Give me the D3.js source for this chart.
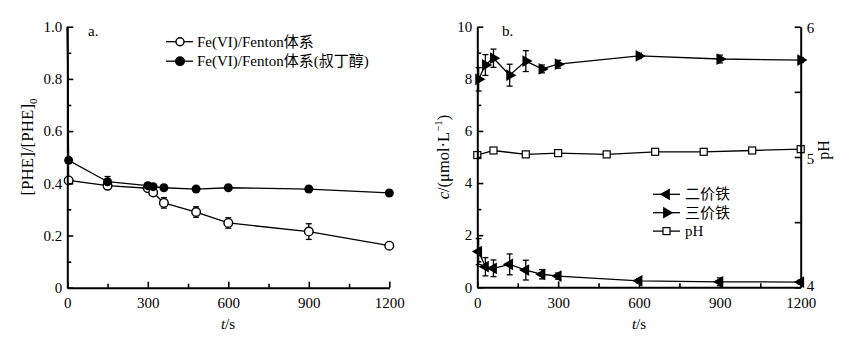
<!DOCTYPE html>
<html>
<head>
<meta charset="utf-8">
<script src="https://cdn.jsdelivr.net/npm/d3@7"></script>
<style>
  body { margin: 0; background: #fff; }
  svg text { font-family: "Liberation Serif", "Noto Sans CJK SC", serif; fill: #000; }
</style>
</head>
<body>
<svg id="chart" width="851" height="342"></svg>
<script>
// panel a: relative PHE concentration
const timeA = [0, 5, 150, 300, 320, 360, 480, 600, 900, 1200];
const pheOpen = [1.0, 0.411, 0.391, 0.381, 0.365, 0.325, 0.290, 0.248, 0.215, 0.161];
const pheOpenErr = [0, 0.01, 0.015, 0.01, 0.01, 0.02, 0.02, 0.02, 0.03, 0.005];
const pheFilled = [1.0, 0.488, 0.406, 0.391, 0.387, 0.383, 0.378, 0.383, 0.378, 0.363];
const pheFilledErr = [0, 0.01, 0.02, 0.01, 0.005, 0.005, 0.005, 0.005, 0.005, 0.005];
const legendA = ["Fe(VI)/Fenton体系", "Fe(VI)/Fenton体系(叔丁醇)"];

// panel b: iron species and pH
const timeFe = [5, 30, 60, 120, 180, 240, 300, 600, 900, 1200];
const fe2 = [1.37, 0.79, 0.73, 0.88, 0.66, 0.50, 0.43, 0.25, 0.21, 0.20];
const fe2Err = [0.5, 0.35, 0.32, 0.4, 0.38, 0.18, 0.12, 0.08, 0.15, 0.08];
const fe3 = [7.98, 8.53, 8.79, 8.14, 8.68, 8.38, 8.56, 8.88, 8.76, 8.72];
const fe3Err = [0.45, 0.4, 0.35, 0.42, 0.4, 0.15, 0.15, 0.1, 0.15, 0.1];
const timePH = [0, 60, 180, 300, 480, 660, 840, 1020, 1200];
const pHvals = [5.015, 5.05, 5.02, 5.03, 5.02, 5.04, 5.04, 5.05, 5.06];
const legendB = ["二价铁", "三价铁", "pH"];

const xTicks = [0, 300, 600, 900, 1200];

const svg = d3.select("#chart");

//bottom x axis with inward major and minor ticks
function drawXAxis(g, x, y0) {
  g.append("g")
    .attr("transform", `translate(0,${y0})`)
    .call(d3.axisBottom(x).tickValues(d3.range(150, 1200, 300)).tickSize(-4).tickFormat(""))
    .call(a => a.select(".domain").remove())
    .selectAll("line").attr("stroke-width", 1.6);
  const ax = g.append("g")
    .attr("transform", `translate(0,${y0})`)
    .call(d3.axisBottom(x).tickValues(xTicks).tickSize(-6).tickSizeOuter(0).tickPadding(9).tickFormat(d3.format("d")));
  ax.select(".domain").attr("stroke-width", 2);
  ax.selectAll("line").attr("stroke-width", 1.6);
  ax.selectAll("text").attr("font-size", "15px").attr("dy", "0.75em");
}

//left y axis, ticks pointing into the plot
function drawYAxis(g, y, x0, major, minor, fmt) {
  g.append("g")
    .attr("transform", `translate(${x0},0)`)
    .call(d3.axisLeft(y).tickValues(minor).tickSize(-4).tickFormat(""))
    .call(a => a.select(".domain").remove())
    .selectAll("line").attr("stroke-width", 1.6);
  const ax = g.append("g")
    .attr("transform", `translate(${x0},0)`)
    .call(d3.axisLeft(y).tickValues(major).tickSize(-6).tickSizeOuter(0).tickPadding(5).tickFormat(fmt));
  ax.select(".domain").attr("stroke-width", 2);
  ax.selectAll("line").attr("stroke-width", 1.6);
  ax.selectAll("text").attr("font-size", "15px");
}

function errorBars(g, xs, ys, errs, x, y) {
  const data = xs.map((t, i) => ({ t: t, v: ys[i], e: errs[i] })).filter(d => d.e > 0);
  const eb = g.append("g").attr("stroke", "#000").attr("stroke-width", 1.3);
  eb.selectAll("line.v").data(data).join("line")
    .attr("x1", d => x(d.t)).attr("x2", d => x(d.t))
    .attr("y1", d => y(d.v - d.e)).attr("y2", d => y(d.v + d.e));
  [-1, 1].forEach(s => {
    eb.selectAll("line.c" + s).data(data).join("line")
      .attr("x1", d => x(d.t) - 3).attr("x2", d => x(d.t) + 3)
      .attr("y1", d => y(d.v + s * d.e)).attr("y2", d => y(d.v + s * d.e));
  });
}

function drawLine(g, xs, ys, x, y) {
  g.append("path")
    .datum(xs.map((t, i) => [t, ys[i]]))
    .attr("fill", "none")
    .attr("stroke", "#000")
    .attr("stroke-width", 1.3)
    .attr("d", d3.line().x(d => x(d[0])).y(d => y(d[1])));
}

// ---------- panel a ----------
const xa = d3.scaleLinear().domain([0, 1200]).range([67.3, 389.3]);
const ya = d3.scaleLinear().domain([0, 1]).range([287.7, 26.7]);
const ga = svg.append("g");

drawLine(ga, timeA, pheOpen, xa, ya);
drawLine(ga, timeA, pheFilled, xa, ya);
errorBars(ga, timeA, pheOpen, pheOpenErr, xa, ya);
errorBars(ga, timeA, pheFilled, pheFilledErr, xa, ya);

ga.selectAll("circle.open")
  .data(timeA.map((t, i) => [t, pheOpen[i]]).slice(1))
  .join("circle")
  .attr("cx", d => xa(d[0])).attr("cy", d => ya(d[1])).attr("r", 4.3)
  .attr("fill", "#fff").attr("stroke", "#000").attr("stroke-width", 1.4);
ga.selectAll("circle.filled")
  .data(timeA.map((t, i) => [t, pheFilled[i]]).slice(1))
  .join("circle")
  .attr("cx", d => xa(d[0])).attr("cy", d => ya(d[1])).attr("r", 4.5)
  .attr("fill", "#000");

drawXAxis(ga, xa, 287.7);
drawYAxis(ga, ya, 67.3, [0, 0.2, 0.4, 0.6, 0.8, 1.0], [0.1, 0.3, 0.5, 0.7, 0.9],
  d => d === 0 ? "0" : d3.format(".1f")(d));

ga.append("text").attr("x", 88).attr("y", 36).attr("font-size", "15px").text("a.");

const yla = ga.append("text")
  .attr("transform", "translate(33,147) rotate(-90)")
  .attr("text-anchor", "middle")
  .attr("font-size", "17px");
yla.append("tspan").text("[PHE]/[PHE]");
yla.append("tspan").attr("font-size", "11px").attr("dy", 4).text("0");

const xla = ga.append("text").attr("x", 228).attr("y", 329).attr("text-anchor", "middle").attr("font-size", "15px");
xla.append("tspan").attr("font-style", "italic").text("t");
xla.append("tspan").text("/s");

legendA.forEach((name, i) => {
  const ly = 41.7 + i * 19.5;
  const lg = ga.append("g");
  lg.append("line").attr("x1", 166).attr("x2", 193).attr("y1", ly).attr("y2", ly)
    .attr("stroke", "#000").attr("stroke-width", 1.3);
  lg.append("circle").attr("cx", 180).attr("cy", ly).attr("r", i === 0 ? 4 : 4.3)
    .attr("fill", i === 0 ? "#fff" : "#000").attr("stroke", "#000").attr("stroke-width", 1.4);
  lg.append("text").attr("x", 197).attr("y", ly + 5).attr("font-size", "15px").text(name);
});

// ---------- panel b ----------
const xb = d3.scaleLinear().domain([0, 1200]).range([477.3, 800.7]);
const yb = d3.scaleLinear().domain([0, 10]).range([287.3, 26.7]);
const yp = d3.scaleLinear().domain([4, 6]).range([287.3, 26.7]);
const gb = svg.append("g");

drawLine(gb, timeFe, fe2, xb, yb);
drawLine(gb, timeFe, fe3, xb, yb);
drawLine(gb, timePH, pHvals, xb, yp);
errorBars(gb, timeFe, fe2, fe2Err, xb, yb);
errorBars(gb, timeFe, fe3, fe3Err, xb, yb);

const tri = d3.symbol().type(d3.symbolTriangle).size(60);
gb.selectAll("path.fe2")
  .data(timeFe.map((t, i) => [t, fe2[i]]))
  .join("path")
  .attr("d", tri)
  .attr("transform", d => `translate(${xb(d[0])},${yb(d[1])}) rotate(-90)`)
  .attr("fill", "#000");
gb.selectAll("path.fe3")
  .data(timeFe.map((t, i) => [t, fe3[i]]))
  .join("path")
  .attr("d", tri)
  .attr("transform", d => `translate(${xb(d[0])},${yb(d[1])}) rotate(90)`)
  .attr("fill", "#000");
gb.selectAll("rect.ph")
  .data(timePH.map((t, i) => [t, pHvals[i]]))
  .join("rect")
  .attr("x", d => xb(d[0]) - 3.5).attr("y", d => yp(d[1]) - 3.5)
  .attr("width", 7).attr("height", 7)
  .attr("fill", "#fff").attr("stroke", "#000").attr("stroke-width", 1.2);

drawXAxis(gb, xb, 287.3);
drawYAxis(gb, yb, 477.3, [0, 2, 4, 6, 8, 10], [1, 3, 5, 7, 9], d3.format("d"));

// right pH axis, ticks point inward (to the left)
gb.append("g")
  .attr("transform", "translate(800.7,0)")
  .call(d3.axisLeft(yp).tickValues([4.5, 5.5]).tickSize(6).tickFormat(""))
  .call(a => a.select(".domain").remove())
  .selectAll("line").attr("stroke-width", 1.6);
const pax = gb.append("g")
  .attr("transform", "translate(800.7,0)")
  .call(d3.axisRight(yp).tickValues([4, 5, 6]).tickSize(-6).tickSizeOuter(0).tickPadding(6).tickFormat(d3.format("d")));
pax.select(".domain").attr("stroke-width", 2);
pax.selectAll("line").attr("stroke-width", 1.6);
pax.selectAll("text").attr("font-size", "15px").attr("dy", d => d === 4 ? "0.2em" : "0.4em");

gb.append("text").attr("x", 502).attr("y", 36).attr("font-size", "15px").text("b.");

const ylb = gb.append("text")
  .attr("transform", "translate(449,157) rotate(-90)")
  .attr("text-anchor", "middle")
  .attr("font-size", "16.5px");
ylb.append("tspan").attr("font-style", "italic").text("c");
ylb.append("tspan").text("/(μmol·L");
ylb.append("tspan").attr("font-size", "11px").attr("dy", -7).text("−1");
ylb.append("tspan").attr("dy", 7).text(")");

gb.append("text")
  .attr("transform", "translate(829,150) rotate(-90)")
  .attr("text-anchor", "middle")
  .attr("font-size", "16px")
  .text("pH");

const xlb = gb.append("text").attr("x", 639).attr("y", 329).attr("text-anchor", "middle").attr("font-size", "15px");
xlb.append("tspan").attr("font-style", "italic").text("t");
xlb.append("tspan").text("/s");

legendB.forEach((name, i) => {
  const ly = 194.3 + i * 18.4;
  const lg = gb.append("g");
  lg.append("line").attr("x1", 653).attr("x2", 680).attr("y1", ly).attr("y2", ly)
    .attr("stroke", "#000").attr("stroke-width", 1.3);
  if (i < 2) {
    lg.append("path").attr("d", tri)
      .attr("transform", `translate(666.5,${ly}) rotate(${i === 0 ? -90 : 90})`)
      .attr("fill", "#000");
  } else {
    lg.append("rect").attr("x", 663).attr("y", ly - 3.5).attr("width", 7).attr("height", 7)
      .attr("fill", "#fff").attr("stroke", "#000").attr("stroke-width", 1.2);
  }
  lg.append("text").attr("x", 685).attr("y", ly + 5).attr("font-size", "15px").text(name);
});
</script>
</body>
</html>
